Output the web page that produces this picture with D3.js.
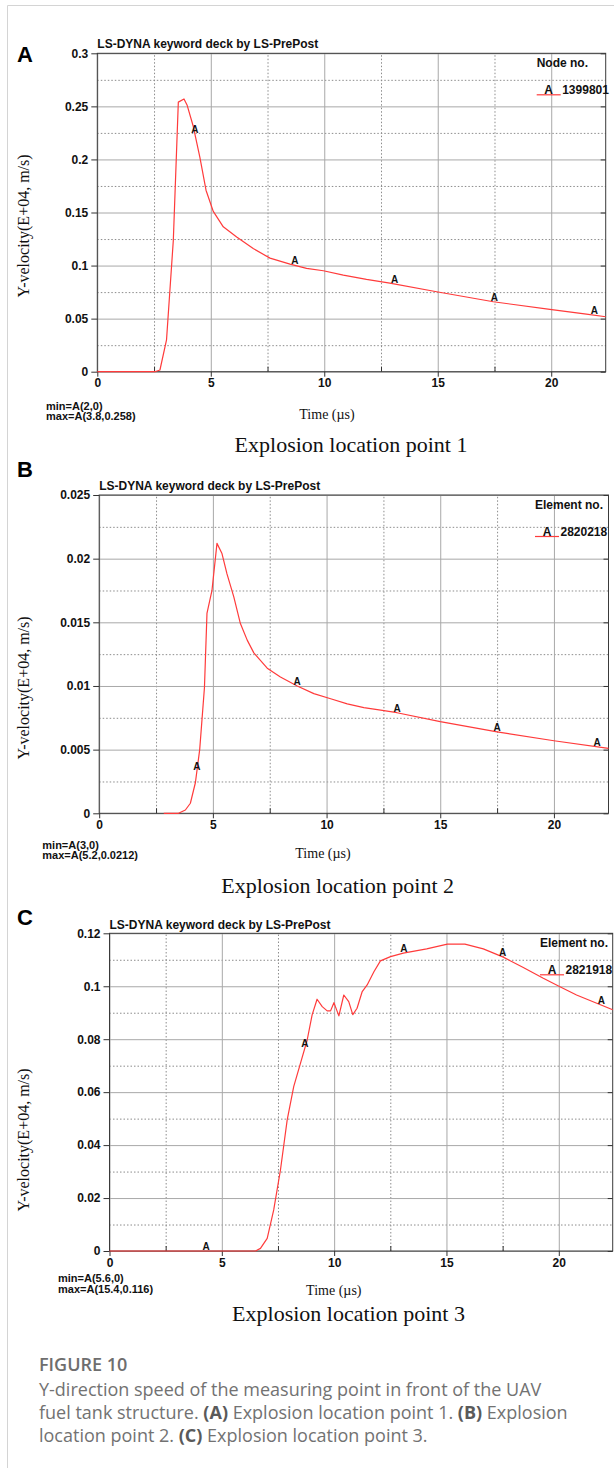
<!DOCTYPE html>
<html>
<head>
<meta charset="utf-8">
<script src="https://cdn.jsdelivr.net/npm/d3@7"></script>
<style>
	body { margin: 0; background: #fff; }
	svg { display: block; }
</style>
</head>
<body>
<script>
// Curves (time in µs, Y-velocity in E+04 m/s)
const timeA = [0, 2.54, 2.76, 3.05, 3.35, 3.57, 3.82, 3.96, 4.23, 4.52, 4.79, 5.11, 5.55, 6.14, 6.87, 7.61, 8.49, 9.22, 9.96, 10.84, 11.86, 12.89, 14.95, 17.45, 19.94, 21.55, 22.4];
const velocityA = [0, 0, 0.0016, 0.030, 0.124, 0.254, 0.257, 0.251, 0.231, 0.202, 0.171, 0.151, 0.1365, 0.127, 0.116, 0.107, 0.1014, 0.0973, 0.0951, 0.091, 0.087, 0.0835, 0.0753, 0.0659, 0.0587, 0.0543, 0.0518];

const timeB = [2.84, 3.49, 3.79, 4.01, 4.23, 4.42, 4.63, 4.74, 4.96, 5.18, 5.40, 5.62, 5.92, 6.21, 6.51, 6.80, 7.39, 7.97, 8.71, 9.44, 10.18, 10.91, 11.64, 12.38, 13.1, 15.0, 17.5, 20.0, 22.4];
const velocityB = [0, 0, 0.00026, 0.00079, 0.0024, 0.0050, 0.0099, 0.0157, 0.0175, 0.0212, 0.0204, 0.0188, 0.0170, 0.0149, 0.0136, 0.0126, 0.0114, 0.0107, 0.0100, 0.0094, 0.0090, 0.0086, 0.0083, 0.0081, 0.0079, 0.0072, 0.0064, 0.0057, 0.0051];

const timeC = [0, 6.50, 6.72, 7.02, 7.31, 7.61, 7.91, 8.20, 8.50, 8.80, 9.02, 9.24, 9.47, 9.69, 9.84, 9.99, 10.21, 10.43, 10.65, 10.83, 11.02, 11.25, 11.47, 11.77, 12.06, 12.51, 13.08, 14.12, 15.04, 15.82, 16.64, 17.53, 18.42, 19.31, 20.03, 20.79, 21.69, 22.4];
const velocityC = [0, 0, 0.0010, 0.0048, 0.0155, 0.0306, 0.0495, 0.0621, 0.0709, 0.0797, 0.0892, 0.0951, 0.0923, 0.0907, 0.0907, 0.0938, 0.0888, 0.0967, 0.0942, 0.0893, 0.0917, 0.0980, 0.1005, 0.1055, 0.1096, 0.1112, 0.1125, 0.1141, 0.1159, 0.1159, 0.1141, 0.1110, 0.1071, 0.1030, 0.0999, 0.0967, 0.0936, 0.0911];

// Curve label "A" positions along the time axis
const markerTimes = [4.3, 8.7, 13.1, 17.5, 21.9];

const timeDomain = [0, 22.4];
const xMajorTicks = [0, 5, 10, 15, 20];
const xMinorTicks = [2.5, 7.5, 12.5, 17.5];

const yMajorTicksA = [0, 0.05, 0.1, 0.15, 0.2, 0.25, 0.3];
const yMinorTicksA = [0.025, 0.075, 0.125, 0.175, 0.225, 0.275];
const yMajorTicksB = [0, 0.005, 0.01, 0.015, 0.02, 0.025];
const yMinorTicksB = [0.0025, 0.0075, 0.0125, 0.0175, 0.0225];
const yMajorTicksC = [0, 0.02, 0.04, 0.06, 0.08, 0.1, 0.12];
const yMinorTicksC = [0.01, 0.03, 0.05, 0.07, 0.09, 0.11];

const SANS = "'Liberation Sans', Arial, sans-serif";
const SERIF = "'Liberation Serif', 'Times New Roman', serif";
const CAPTION_FONT = "'Open Sans', 'Noto Sans', sans-serif";
const CURVE_COLOR = "#ff3b3b";


const panels = [
	{
		letter: "A", time: timeA, velocity: velocityA,
		yMajor: yMajorTicksA, yMinor: yMinorTicksA,
		legendTitle: "Node no.", legendId: "1399801",
		minText: "min=A(2,0)", maxText: "max=A(3.8,0.258)",
		caption: "Explosion location point 1",
		left: 97.3, right: 605.7, top: 53.3, bottom: 371.7,
		letterY: 62.3, titleY: 47.7, legendX: 536.7,
		minMaxX: 46, minY: 409.5, maxY: 420,
		timeLabelX: 327, timeLabelY: 418.6,
		captionX: 351, captionY: 452,
		yLabelY: 226
	},
	{
		letter: "B", time: timeB, velocity: velocityB,
		yMajor: yMajorTicksB, yMinor: yMinorTicksB,
		legendTitle: "Element no.", legendId: "2820218",
		minText: "min=A(3,0)", maxText: "max=A(5.2,0.0212)",
		caption: "Explosion location point 2",
		left: 99.2, right: 608.5, top: 495, bottom: 813.3,
		letterY: 477.3, titleY: 490, legendX: 535,
		minMaxX: 42.3, minY: 848.5, maxY: 859,
		timeLabelX: 323, timeLabelY: 857.6,
		captionX: 337.7, captionY: 893,
		yLabelY: 688
	},
	{
		letter: "C", time: timeC, velocity: velocityC,
		yMajor: yMajorTicksC, yMinor: yMinorTicksC,
		legendTitle: "Element no.", legendId: "2821918",
		minText: "min=A(5.6,0)", maxText: "max=A(15.4,0.116)",
		caption: "Explosion location point 3",
		left: 109.5, right: 612.7, top: 933.3, bottom: 1251,
		letterY: 925, titleY: 929.3, legendX: 540,
		minMaxX: 58, minY: 1282, maxY: 1292.5,
		timeLabelX: 333.8, timeLabelY: 1294.6,
		captionX: 348.5, captionY: 1320.6,
		yLabelY: 1140
	}
];


const svg = d3.select("body").append("svg")
	.attr("width", 614)
	.attr("height", 1468);

// Page frame (light rule at top and left)
svg.append("line")
	.attr("x1", 7.5).attr("x2", 614).attr("y1", 5.5).attr("y2", 5.5)
	.attr("stroke", "#d4d4d4");
svg.append("line")
	.attr("x1", 7.5).attr("x2", 7.5).attr("y1", 5.5).attr("y2", 1468)
	.attr("stroke", "#d4d4d4");


// Value of the curve at time t, for placing the "A" labels on it
function valueAt(time, velocity, t) {
	if (t < time[0] || t > time[time.length - 1]) return null;
	const i = Math.max(1, d3.bisectLeft(time, t));
	const t0 = time[i - 1], t1 = time[i];
	const k = (t - t0) / (t1 - t0);
	return velocity[i - 1] + k * (velocity[i] - velocity[i - 1]);
}


function drawPanel(p) {
	const g = svg.append("g").attr("class", "panel");

	const x = d3.scaleLinear().domain(timeDomain).range([p.left, p.right]);
	const yMax = p.yMajor[p.yMajor.length - 1];
	const y = d3.scaleLinear().domain([0, yMax]).range([p.bottom, p.top]);
	const plotWidth = p.right - p.left;
	const plotHeight = p.bottom - p.top;

	// Dotted minor grid
	g.append("g")
		.attr("transform", `translate(0,${p.bottom})`)
		.call(d3.axisBottom(x).tickValues(xMinorTicks).tickSize(-plotHeight).tickFormat(""))
		.call(a => a.select(".domain").remove())
		.call(a => a.selectAll("line").attr("stroke", "#8c8c8c").attr("stroke-dasharray", "1.5,2"));
	g.append("g")
		.attr("transform", `translate(${p.left},0)`)
		.call(d3.axisLeft(y).tickValues(p.yMinor).tickSize(-plotWidth).tickFormat(""))
		.call(a => a.select(".domain").remove())
		.call(a => a.selectAll("line").attr("stroke", "#8c8c8c").attr("stroke-dasharray", "1.5,2"));

	// Solid major grid
	g.append("g")
		.attr("transform", `translate(0,${p.bottom})`)
		.call(d3.axisBottom(x).tickValues(xMajorTicks).tickSize(-plotHeight).tickFormat(""))
		.call(a => a.select(".domain").remove())
		.call(a => a.selectAll("line").attr("stroke", "#a8a8a8"));
	g.append("g")
		.attr("transform", `translate(${p.left},0)`)
		.call(d3.axisLeft(y).tickValues(p.yMajor).tickSize(-plotWidth).tickFormat(""))
		.call(a => a.select(".domain").remove())
		.call(a => a.selectAll("line").attr("stroke", "#a8a8a8"));

	// Small inward ticks: minor x at the bottom, major y on the right
	g.append("g")
		.attr("transform", `translate(0,${p.bottom})`)
		.call(d3.axisTop(x).tickValues(xMinorTicks).tickSize(5).tickFormat(""))
		.call(a => a.select(".domain").remove())
		.call(a => a.selectAll("line").attr("stroke", "#333"));
	g.append("g")
		.attr("transform", `translate(${p.right},0)`)
		.call(d3.axisLeft(y).tickValues(p.yMajor).tickSize(5).tickFormat(""))
		.call(a => a.select(".domain").remove())
		.call(a => a.selectAll("line").attr("stroke", "#333"));

	// Plot border
	g.append("rect")
		.attr("x", p.left).attr("y", p.top)
		.attr("width", plotWidth).attr("height", plotHeight)
		.attr("fill", "none")
		.attr("stroke", "#3a3a3a");

	// Axes with labels
	const xAxis = g.append("g")
		.attr("transform", `translate(0,${p.bottom})`)
		.call(d3.axisBottom(x).tickValues(xMajorTicks).tickSize(5).tickPadding(2).tickFormat(d3.format("d")));
	const yAxis = g.append("g")
		.attr("transform", `translate(${p.left},0)`)
		.call(d3.axisLeft(y).tickValues(p.yMajor).tickSize(6).tickPadding(3).tickFormat(d3.format("~g")));
	[xAxis, yAxis].forEach(axis => {
		axis.select(".domain").remove();
		axis.selectAll("line").attr("stroke", "#333");
		axis.selectAll("text")
			.attr("fill", "#111")
			.style("font-family", SANS)
			.style("font-size", "12px")
			.style("font-weight", "bold");
	});

	// The curve
	const line = d3.line()
		.x((d, i) => x(p.time[i]))
		.y((d, i) => y(p.velocity[i]));
	g.append("path")
		.datum(p.velocity)
		.attr("d", line)
		.attr("fill", "none")
		.attr("stroke", CURVE_COLOR)
		.attr("stroke-width", 1.2)
		.attr("stroke-linejoin", "round");

	// "A" labels sitting on the curve
	const markers = markerTimes
		.map(t => ({ t, v: valueAt(p.time, p.velocity, t) }))
		.filter(d => d.v !== null);
	g.selectAll("text.marker")
		.data(markers)
		.join("text")
		.attr("class", "marker")
		.attr("x", d => x(d.t))
		.attr("y", d => y(d.v) - 1)
		.attr("text-anchor", "middle")
		.style("font-family", SANS)
		.style("font-size", "10px")
		.style("font-weight", "bold")
		.attr("fill", "#111")
		.text("A");

	// Legend in the top-right corner
	g.append("text")
		.attr("x", p.legendX).attr("y", p.top + 13.5)
		.style("font-family", SANS).style("font-size", "12px").style("font-weight", "bold")
		.attr("fill", "#111")
		.text(p.legendTitle);
	g.append("line")
		.attr("x1", p.legendX).attr("x2", p.legendX + 24)
		.attr("y1", p.top + 41.5).attr("y2", p.top + 41.5)
		.attr("stroke", CURVE_COLOR).attr("stroke-width", 1.2);
	g.append("text")
		.attr("x", p.legendX + 12).attr("y", p.top + 41)
		.attr("text-anchor", "middle")
		.style("font-family", SANS).style("font-size", "12px").style("font-weight", "bold")
		.attr("fill", "#111")
		.text("A");
	g.append("text")
		.attr("x", p.legendX + 25.5).attr("y", p.top + 41)
		.style("font-family", SANS).style("font-size", "12px").style("font-weight", "bold")
		.attr("fill", "#111")
		.text(p.legendId);

	// Header text of the plot
	g.append("text")
		.attr("x", p.left).attr("y", p.titleY)
		.style("font-family", SANS).style("font-size", "12px").style("font-weight", "bold")
		.attr("fill", "#111")
		.text("LS-DYNA keyword deck by LS-PrePost");

	// Panel letter
	g.append("text")
		.attr("x", 17).attr("y", p.letterY)
		.style("font-family", SANS).style("font-size", "22px").style("font-weight", "bold")
		.attr("fill", "#000")
		.text(p.letter);

	// Axis titles
	g.append("text")
		.attr("transform", `translate(29,${p.yLabelY}) rotate(-90)`)
		.attr("text-anchor", "middle")
		.style("font-family", SERIF).style("font-size", "16px")
		.attr("fill", "#111")
		.text("Y-velocity(E+04, m/s)");
	g.append("text")
		.attr("x", p.timeLabelX).attr("y", p.timeLabelY)
		.attr("text-anchor", "middle")
		.style("font-family", SERIF).style("font-size", "14px")
		.attr("fill", "#111")
		.text("Time (µs)");

	// min / max readout
	g.append("text")
		.attr("x", p.minMaxX).attr("y", p.minY)
		.style("font-family", SANS).style("font-size", "11px").style("font-weight", "bold")
		.attr("fill", "#111")
		.text(p.minText);
	g.append("text")
		.attr("x", p.minMaxX).attr("y", p.maxY)
		.style("font-family", SANS).style("font-size", "11px").style("font-weight", "bold")
		.attr("fill", "#111")
		.text(p.maxText);

	// Sub-caption under each plot
	g.append("text")
		.attr("x", p.captionX).attr("y", p.captionY)
		.attr("text-anchor", "middle")
		.style("font-family", SERIF).style("font-size", "22px")
		.attr("fill", "#111")
		.text(p.caption);
}

panels.forEach(drawPanel);


// Figure caption
const captionLines = [
	[["Y-direction speed of the measuring point in front of the UAV", false]],
	[["fuel tank structure. ", false], ["(A)", true], [" Explosion location point 1. ", false], ["(B)", true], [" Explosion", false]],
	[["location point 2. ", false], ["(C)", true], [" Explosion location point 3.", false]]
];

svg.append("text")
	.attr("x", 39).attr("y", 1370.7)
	.style("font-family", CAPTION_FONT)
	.style("font-size", "18px").style("font-weight", 600)
	.attr("fill", "#6e6e6e")
	.text("FIGURE 10");

captionLines.forEach((parts, i) => {
	const text = svg.append("text")
		.attr("x", 39).attr("y", 1396 + i * 22.8)
		.style("font-family", CAPTION_FONT)
		.style("font-size", "18px")
		.attr("fill", "#727272");
	parts.forEach(([s, bold]) => {
		text.append("tspan")
			.style("font-weight", bold ? 700 : 400)
			.attr("fill", bold ? "#5a5a5a" : "#727272")
			.text(s);
	});
});
</script>
</body>
</html>
